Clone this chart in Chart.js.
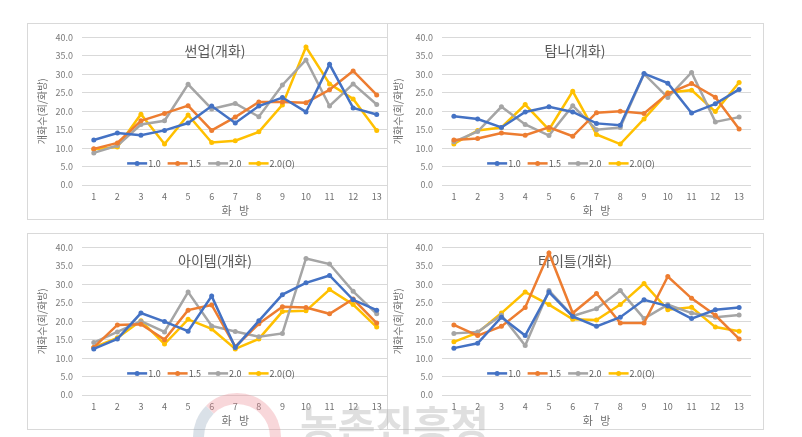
<!DOCTYPE html>
<html>
<head>
<meta charset="utf-8">
<script src="https://cdn.jsdelivr.net/npm/chart.js@4/dist/chart.umd.min.js"></script>
<style>
  html, body { margin:0; padding:0; background:#fff; }
  body { width:802px; height:437px; position:relative; overflow:hidden; font-family:'Noto Sans CJK KR','Noto Sans',sans-serif; }
  .frame { position:absolute; box-sizing:border-box; border:1px solid #d9d9d9; }
  .cover { background:#fff; }
  canvas { position:absolute; }
  #wm { position:absolute; left:300px; top:393px; font-size:41px; font-weight:700; color:rgba(185,185,185,0.45); letter-spacing:0px; white-space:nowrap; pointer-events:none; }
  #ring { position:absolute; left:193px; top:393px; width:88px; height:88px; box-sizing:border-box; border-radius:50%; border:11px solid rgba(150,170,190,0.35); border-right-color:rgba(235,140,150,0.35); border-top-color:rgba(235,140,150,0.35); pointer-events:none; }
</style>
</head>
<body>
<div class="frame" style="left:27px;top:23px;width:361px;height:197px;"></div>
<canvas id="c1" width="364" height="196" style="left:27px;top:23px;"></canvas>
<div class="frame cover" style="left:387px;top:23px;width:377px;height:197px;"></div>
<canvas id="c2" width="376" height="196" style="left:387px;top:23px;"></canvas>
<div class="frame" style="left:27px;top:233px;width:361px;height:197px;"></div>
<canvas id="c3" width="364" height="196" style="left:27px;top:233px;"></canvas>
<div class="frame cover" style="left:387px;top:233px;width:377px;height:197px;"></div>
<canvas id="c4" width="376" height="196" style="left:387px;top:233px;"></canvas>
<div id="ring"></div>
<div id="wm">농촌진흥청</div>
<script>
// ---- data ----
const categories = ['1','2','3','4','5','6','7','8','9','10','11','12','13'];
const seriesLabels = ['1.0','1.5','2.0','2.0(O)'];
const seriesColors = ['#4472C4','#ED7D31','#A5A5A5','#FFC000'];
const panelTitles = ['썬업(개화)','탐나(개화)','아이템(개화)','타이틀(개화)'];
const yAxisTitle = '개화수(회/화방)';
const xAxisTitle = '화   방';

const sunup_10  = [12.2,14.1,13.5,14.8,16.8,21.4,16.8,21.4,23.7,19.8,32.7,20.9,19.1];
const sunup_15  = [9.8,11.4,17.4,19.4,21.5,14.8,18.4,22.5,22.5,22.3,25.8,30.9,24.4];
const sunup_20  = [8.7,10.7,16.4,17.4,27.3,20.6,22.1,18.5,27.1,33.9,21.4,27.4,21.8];
const sunup_20o = [9.7,10.3,19.2,11.1,19.0,11.5,12.0,14.4,21.7,37.4,27.4,23.3,14.8];

const tamna_10  = [18.6,17.9,15.6,19.8,21.2,19.8,16.7,16.2,30.2,27.6,19.5,22.0,25.9];
const tamna_15  = [12.2,12.6,14.1,13.5,15.6,13.2,19.6,20.0,19.4,24.8,27.5,23.8,15.2];
const tamna_20  = [11.7,14.5,21.2,16.4,13.4,21.5,15.0,15.6,30.1,23.7,30.5,17.1,18.4];
const tamna_20o = [11.1,14.8,15.6,21.8,15.0,25.4,13.7,11.1,17.9,25.0,25.7,19.9,27.8];

const item_10  = [12.5,15.2,22.2,19.9,17.3,26.8,12.9,20.1,27.2,30.4,32.4,25.8,23.0];
const item_15  = [12.9,19.0,19.2,15.0,23.0,24.4,13.1,19.3,23.9,23.7,22.0,26.0,19.5];
const item_20  = [14.2,17.1,20.0,17.1,27.9,18.7,17.2,15.8,16.7,37.0,35.5,28.1,22.0];
const item_20o = [12.9,15.5,20.1,13.8,20.5,17.9,12.5,15.2,22.6,22.8,28.6,24.5,18.4];

const title_10  = [12.7,14.0,21.1,16.1,27.9,21.3,18.6,21.1,25.8,24.1,20.7,23.1,23.7];
const title_15  = [19.0,16.1,18.6,23.7,38.5,22.2,27.5,19.5,19.5,32.1,26.2,21.6,15.2];
const title_20  = [16.7,17.1,21.6,13.4,28.3,21.4,23.4,28.3,20.7,24.5,22.2,21.1,21.7];
const title_20o = [14.4,16.9,22.2,27.9,24.5,20.5,20.3,24.5,30.2,23.1,23.8,18.4,17.3];

const yMin = 0, yMax = 40, yStep = 5;

// ---- chart setup ----
const FONT = "'Noto Sans CJK KR','Noto Sans',sans-serif";
Chart.defaults.font.family = FONT;
Chart.defaults.color = '#6f6f6f';

const overlayPlugin = {
  id: 'overlay',
  beforeDatasetsDraw(chart, args, opts) {
    const { ctx, chartArea } = chart;
    ctx.save();
    ctx.font = '14px ' + FONT;
    ctx.fillStyle = '#595959';
    ctx.textAlign = 'center';
    ctx.textBaseline = 'middle';
    ctx.fillText(opts.title, chartArea.left + 133, chartArea.top + 13);
    ctx.restore();
  },
  afterDraw(chart) {
    const { ctx, chartArea } = chart;
    ctx.save();
    ctx.font = '9px ' + FONT;
    const lineW = 20, gapT = 1, gapI = 7;
    const ds = chart.data.datasets;
    let total = 0;
    const widths = ds.map(d => ctx.measureText(d.label).width);
    widths.forEach((w, i) => { total += lineW + gapT + w + (i < ds.length - 1 ? gapI : 0); });
    let x = chartArea.left + 129 - total / 2;
    const y = chartArea.top + 126;
    ds.forEach((d, i) => {
      ctx.strokeStyle = d.borderColor;
      ctx.lineWidth = 2.5;
      ctx.beginPath(); ctx.moveTo(x, y); ctx.lineTo(x + lineW, y); ctx.stroke();
      ctx.fillStyle = d.borderColor;
      ctx.beginPath(); ctx.arc(x + lineW / 2, y, 2.5, 0, Math.PI * 2); ctx.fill();
      ctx.fillStyle = '#595959';
      ctx.textAlign = 'left'; ctx.textBaseline = 'middle';
      ctx.fillText(d.label, x + lineW + gapT, y + 0.5);
      x += lineW + gapT + widths[i] + gapI;
    });
    ctx.restore();
  }
};

function makeChart(id, title, seriesList, padRight, yTitlePad) {
  const datasets = seriesList.map((vals, i) => ({
    label: seriesLabels[i],
    data: vals,
    borderColor: seriesColors[i],
    backgroundColor: seriesColors[i],
    borderWidth: 2.5,
    pointRadius: 2.5,
    pointHoverRadius: 2.5,
    pointBorderWidth: 0,
    tension: 0,
    fill: false
  }));
  new Chart(document.getElementById(id), {
    type: 'line',
    data: { labels: categories, datasets },
    plugins: [overlayPlugin],
    options: {
      responsive: false,
      animation: false,
      events: [],
      layout: { padding: { left: 0, right: padRight, top: 6, bottom: 0 } },
      plugins: {
        legend: { display: false },
        tooltip: { enabled: false },
        title: { display: false },
        overlay: { title }
      },
      scales: {
        x: {
          offset: true,
          grid: { display: false, drawTicks: false },
          border: { display: false },
          ticks: { padding: 6, font: { size: 9 }, color: '#6f6f6f', maxRotation: 0, autoSkip: false },
          title: { display: true, text: xAxisTitle, font: { size: 11 }, color: '#6f6f6f', padding: { top: 0, bottom: 1.4 } },
          afterFit(scale) { scale.height = 34; }
        },
        y: {
          min: yMin, max: yMax,
          grid: { color: '#d9d9d9', lineWidth: 1, drawTicks: false },
          border: { display: false },
          ticks: { stepSize: yStep, padding: 9, font: { size: 9 }, color: '#7a7a7a', callback: v => Number(v).toFixed(1) },
          title: { display: true, text: yAxisTitle, font: { size: 10 }, color: '#6f6f6f', padding: { top: yTitlePad, bottom: 0 } },
          afterFit(scale) { scale.width = 55; }
        }
      }
    }
  });
}

makeChart('c1', panelTitles[0], [sunup_10, sunup_15, sunup_20, sunup_20o], 0, 9);
makeChart('c2', panelTitles[1], [tamna_10, tamna_15, tamna_20, tamna_20o], 12, 5);
makeChart('c3', panelTitles[2], [item_10, item_15, item_20, item_20o], 0, 9);
makeChart('c4', panelTitles[3], [title_10, title_15, title_20, title_20o], 12, 5);
</script>
</body>
</html>
